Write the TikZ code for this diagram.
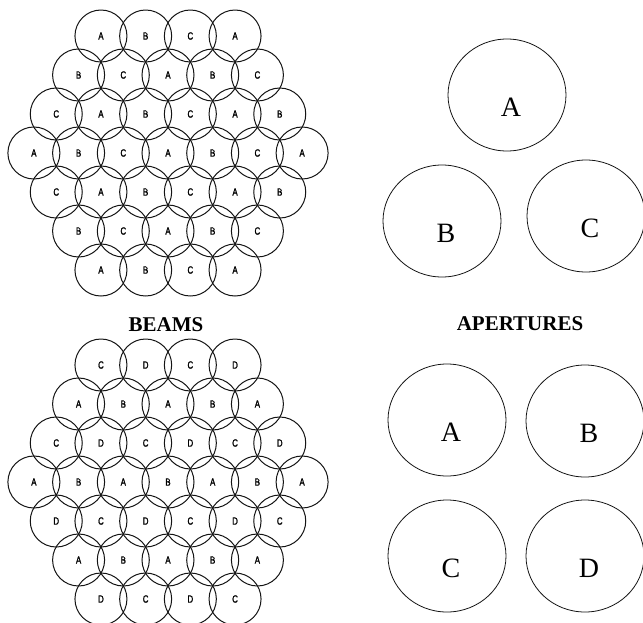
\documentclass[tikz,border=0pt]{standalone}
\usepackage{fontspec}
\setmainfont{Liberation Serif}
\newfontfamily\beamfont[FakeStretch=0.75,FakeBold=1.5]{Liberation Sans}
\usetikzlibrary{positioning,shapes.geometric}
\definecolor{ink}{RGB}{20,20,20}
\tikzset{
  beam/.style={draw=ink,circle,line width=1pt,minimum size=52pt,inner sep=0pt,
    font=\beamfont\fontsize{10.5}{10.5}\selectfont},
  aper/.style={draw=ink,ellipse,line width=0.8pt,minimum width=118pt,
    minimum height=112pt,inner sep=0pt},
  apl/.style={font=\fontsize{28}{28}\selectfont,inner sep=0pt},
  ttl/.style={font=\bfseries\fontsize{21}{21}\selectfont,inner sep=0pt},
}

\begin{document}
\begin{tikzpicture}[x=1pt,y=-1pt]
\clip (0,0) rectangle (643,622);
\def\dx{44.7}
\def\dy{39}
% three-colour beam lattice
\foreach \r/\row in {0/{A,B,C,A},1/{B,C,A,B,C},2/{C,A,B,C,A,B},3/{A,B,C,A,B,C,A},
    4/{C,A,B,C,A,B},5/{B,C,A,B,C},6/{A,B,C,A}}{
  \pgfmathsetmacro\n{7-abs(\r-3)}
  \foreach \l [count=\i from 0] in \row{
    \node[beam] (t\r-\i) at ({168+(\i-(\n-1)/2)*\dx},{153+(\r-3)*\dy}) {\l};}}
% four-colour beam lattice
\foreach \r/\row in {0/{C,D,C,D},1/{A,B,A,B,A},2/{C,D,C,D,C,D},3/{A,B,A,B,A,B,A},
    4/{D,C,D,C,D,C},5/{A,B,A,B,A},6/{D,C,D,C}}{
  \pgfmathsetmacro\n{7-abs(\r-3)}
  \foreach \l [count=\i from 0] in \row{
    \node[beam] (b\r-\i) at ({168+(\i-(\n-1)/2)*\dx},{482+(\r-3)*\dy}) {\l};}}
% apertures
\foreach \a/\x/\y in {A/507/95,B/442/221,C/586/216}{
  \node[aper] (apt\a) at (\x,\y) {};
  \node[apl] (lt\a) at ([shift={(4,12)}]apt\a.center) {\a};}
\foreach \a/\x/\y in {A/447/420,B/585/421,C/447/556,D/585/556}{
  \node[aper] (apb\a) at (\x,\y) {};
  \node[apl] (lb\a) at ([shift={(4,12)}]apb\a.center) {\a};}
\node[ttl] (beams) at (166,324.5) {BEAMS};
\node[ttl] (apers) at (520,323.5) {APERTURES};
\end{tikzpicture}
\end{document}
